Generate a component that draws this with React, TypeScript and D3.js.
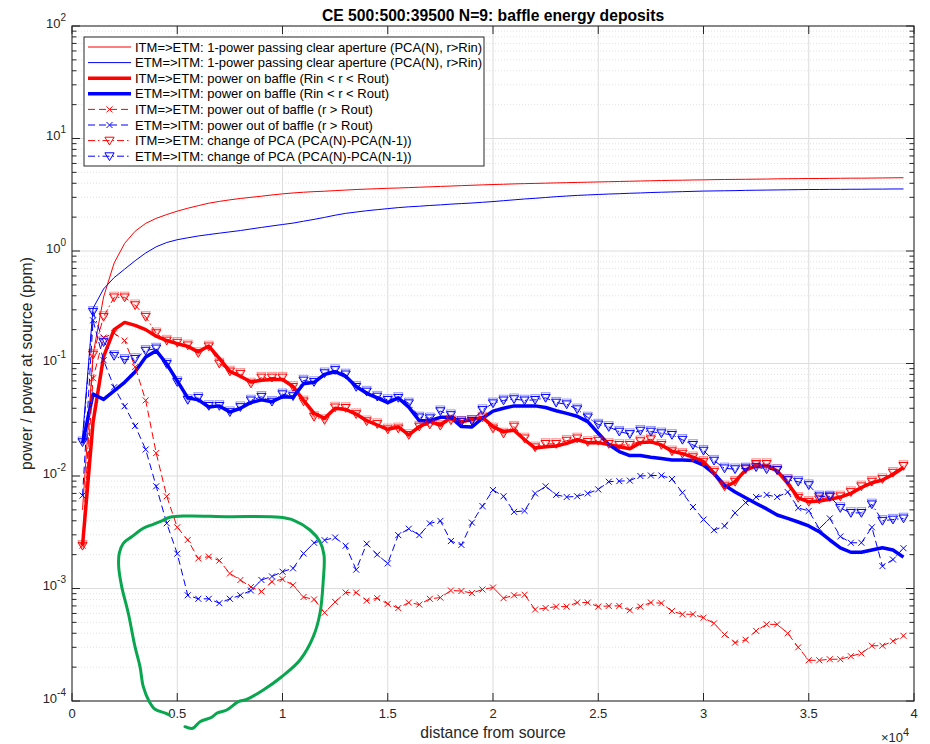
import React from 'react';
import * as d3 from 'd3';

// baffle positions 500:500:39500
const distances: number[] = d3.range(500, 40000, 500);

// ITM=>ETM: 1-power passing clear aperture
const itmEtmPca = [
  0.005, 0.12, 0.39, 0.78, 1.17, 1.5, 1.76, 1.95, 2.11, 2.26,
  2.40, 2.53, 2.66, 2.76, 2.85, 2.93, 3.00, 3.07, 3.15, 3.22,
  3.28, 3.33, 3.37, 3.40, 3.44, 3.48, 3.52, 3.55, 3.58, 3.61,
  3.63, 3.66, 3.69, 3.72, 3.75, 3.78, 3.81, 3.84, 3.87, 3.90,
  3.92, 3.95, 3.97, 3.99, 4.01, 4.03, 4.05, 4.07, 4.09, 4.11,
  4.13, 4.15, 4.17, 4.19, 4.21, 4.23, 4.25, 4.26, 4.28, 4.29,
  4.31, 4.32, 4.33, 4.34, 4.35, 4.36, 4.38, 4.39, 4.40, 4.41,
  4.41, 4.42, 4.43, 4.44, 4.44, 4.45, 4.46, 4.47, 4.48,
];
// ETM=>ITM: 1-power passing clear aperture
const etmItmPca = [
  0.022, 0.31, 0.46, 0.58, 0.69, 0.82, 0.96, 1.09, 1.19, 1.26,
  1.31, 1.36, 1.40, 1.44, 1.48, 1.52, 1.57, 1.62, 1.67, 1.72,
  1.77, 1.84, 1.91, 1.99, 2.08, 2.16, 2.22, 2.28, 2.33, 2.38,
  2.43, 2.47, 2.50, 2.54, 2.57, 2.61, 2.64, 2.67, 2.71, 2.75,
  2.80, 2.85, 2.90, 2.94, 2.99, 3.04, 3.08, 3.12, 3.15, 3.18,
  3.21, 3.23, 3.26, 3.28, 3.31, 3.33, 3.35, 3.37, 3.39, 3.41,
  3.42, 3.43, 3.44, 3.46, 3.47, 3.48, 3.49, 3.50, 3.51, 3.52,
  3.52, 3.53, 3.53, 3.54, 3.54, 3.55, 3.55, 3.56, 3.56,
];
// ITM=>ETM: power on baffle
const itmEtmBaffle = [
  0.0024, 0.03, 0.115, 0.2, 0.232, 0.218, 0.2, 0.175, 0.16, 0.15,
  0.142, 0.127, 0.143, 0.111, 0.085, 0.077, 0.0685, 0.071, 0.072, 0.072,
  0.0625, 0.047, 0.036, 0.0326, 0.040, 0.039, 0.0355, 0.031, 0.0284, 0.026,
  0.0273, 0.0232, 0.0275, 0.0304, 0.0284, 0.0332, 0.0304, 0.0318, 0.0332, 0.0275,
  0.0248, 0.0255, 0.021, 0.0177, 0.0182, 0.0185, 0.0195, 0.021, 0.0198, 0.0198,
  0.019, 0.0182, 0.0175, 0.0198, 0.0201, 0.0189, 0.0166, 0.0158, 0.0147, 0.0134,
  0.0106, 0.0079, 0.0089, 0.0113, 0.0123, 0.0123, 0.0111, 0.0086, 0.0064, 0.0059,
  0.006, 0.0062, 0.0065, 0.007, 0.0079, 0.0087, 0.0092, 0.0103, 0.0119,
];
// ETM=>ITM: power on baffle
const etmItmBaffle = [
  0.0195, 0.0535, 0.048, 0.057, 0.068, 0.0845, 0.114, 0.13, 0.099, 0.07,
  0.0495, 0.0475, 0.041, 0.042, 0.037, 0.040, 0.045, 0.0475, 0.0458, 0.0506,
  0.05, 0.066, 0.068, 0.08, 0.0845, 0.077, 0.0625, 0.0543, 0.0495, 0.0449,
  0.0495, 0.041, 0.031, 0.031, 0.0332, 0.0332, 0.0275, 0.0273, 0.0326, 0.0377,
  0.040, 0.042, 0.042, 0.042, 0.0406, 0.038, 0.036, 0.034, 0.0304, 0.024,
  0.019, 0.0165, 0.0152, 0.0152, 0.0147, 0.0143, 0.0139, 0.0139, 0.0137, 0.0125,
  0.0105, 0.0083, 0.0072, 0.0064, 0.0057, 0.0051, 0.0045, 0.0042, 0.0039, 0.0036,
  0.0032, 0.0027, 0.0023, 0.0021, 0.0021, 0.0022, 0.0023, 0.0022, 0.0019,
];
// ITM=>ETM: power out of baffle
const itmEtmOut = [
  0.0024, 0.074, 0.17, 0.186, 0.16, 0.093, 0.047, 0.016, 0.0066, 0.0035,
  0.0027, 0.00185, 0.00192, 0.00177, 0.00136, 0.00119, 0.00103, 0.00094, 0.00115, 0.00121,
  0.00107, 0.00084, 0.0008, 0.00061, 0.00076, 0.00092, 0.00092, 0.00078, 0.00082, 0.00073,
  0.00067, 0.00075, 0.00072, 0.00081, 0.00083, 0.00096, 0.00095, 0.00091, 0.00098, 0.00102,
  0.00082, 0.00087, 0.00088, 0.00065, 0.00067, 0.00069, 0.00069, 0.00075, 0.00075, 0.00069,
  0.0007, 0.0007, 0.00064, 0.00069, 0.00075, 0.00074, 0.00063, 0.00059, 0.00059, 0.00055,
  0.00049, 0.00039, 0.00033, 0.00035, 0.00042, 0.00048, 0.00048, 0.0004, 0.0003, 0.00023,
  0.00023, 0.000235, 0.000235, 0.00025, 0.000265, 0.00031, 0.00031, 0.00034, 0.00038,
];
// ETM=>ITM: power out of baffle
const etmItmOut = [
  0.0067, 0.242, 0.107, 0.0615, 0.0417, 0.0279, 0.0172, 0.0081, 0.0038, 0.00204,
  0.00087, 0.00081, 0.00081, 0.00074, 0.00081, 0.00087, 0.00096, 0.00119, 0.00128, 0.00141,
  0.00151, 0.00205, 0.00255, 0.00269, 0.00284, 0.0024, 0.00147, 0.0025, 0.002, 0.00167,
  0.00298, 0.0034, 0.00298, 0.00379, 0.00399, 0.00264, 0.00244, 0.00385, 0.0054, 0.0075,
  0.0066, 0.0048, 0.0049, 0.007, 0.0081, 0.0068, 0.0065, 0.0066, 0.007, 0.0076,
  0.0089, 0.009, 0.0091, 0.01, 0.0101, 0.0101, 0.0094, 0.0071, 0.0053, 0.0041,
  0.0033, 0.0036, 0.0047, 0.0058, 0.0065, 0.0068, 0.0065, 0.0072, 0.0052, 0.0049,
  0.0034, 0.0042, 0.0029, 0.00255, 0.00255, 0.0035, 0.00158, 0.00181, 0.00228,
];
// ITM=>ETM: change of PCA
const itmEtmDelta = [
  0.0024, 0.12, 0.26, 0.387, 0.387, 0.33, 0.26, 0.186, 0.16, 0.153,
  0.145, 0.124, 0.142, 0.10, 0.085, 0.081, 0.0665, 0.075, 0.075, 0.075,
  0.062, 0.0461, 0.0336, 0.0315, 0.0407, 0.0403, 0.0355, 0.0307, 0.029, 0.026,
  0.0265, 0.0232, 0.0275, 0.0287, 0.028, 0.0313, 0.0304, 0.031, 0.0332, 0.0265,
  0.0239, 0.0275, 0.0216, 0.018, 0.0193, 0.0193, 0.0206, 0.0216, 0.0201, 0.0206,
  0.0193, 0.0189, 0.0189, 0.0204, 0.0212, 0.0189, 0.0166, 0.0158, 0.0147, 0.0134,
  0.0109, 0.0081, 0.0089, 0.0115, 0.0128, 0.0128, 0.0113, 0.0092, 0.0064, 0.0059,
  0.0062, 0.0065, 0.0066, 0.0072, 0.0081, 0.0089, 0.0094, 0.0107, 0.0123,
];
// ETM=>ITM: change of PCA
const etmItmDelta = [
  0.02, 0.288, 0.155, 0.117, 0.108, 0.11, 0.13, 0.136, 0.099, 0.0685,
  0.0475, 0.0495, 0.042, 0.042, 0.037, 0.041, 0.047, 0.0506, 0.0458, 0.0533,
  0.0513, 0.0706, 0.0685, 0.082, 0.0875, 0.08, 0.062, 0.0563, 0.0508, 0.0475,
  0.0495, 0.0443, 0.0332, 0.0326, 0.0377, 0.0348, 0.0304, 0.031, 0.0386, 0.0443,
  0.047, 0.0482, 0.047, 0.0475, 0.0495, 0.0449, 0.0434, 0.0392, 0.0332, 0.0287,
  0.0273, 0.0248, 0.0236, 0.0253, 0.0248, 0.024, 0.0232, 0.021, 0.0189, 0.0168,
  0.0137, 0.0117, 0.0115, 0.0117, 0.012, 0.0115, 0.0113, 0.0092, 0.0089, 0.0083,
  0.0066, 0.0066, 0.0052, 0.0047, 0.0047, 0.0056, 0.004, 0.0041, 0.0042,
];

const legendLabels = [
  'ITM=>ETM: 1-power passing clear aperture (PCA(N), r>Rin)',
  'ETM=>ITM: 1-power passing clear aperture (PCA(N), r>Rin)',
  'ITM=>ETM: power on baffle (Rin < r < Rout)',
  'ETM=>ITM: power on baffle (Rin < r < Rout)',
  'ITM=>ETM: power out of baffle (r > Rout)',
  'ETM=>ITM: power out of baffle (r > Rout)',
  'ITM=>ETM: change of PCA (PCA(N)-PCA(N-1))',
  'ETM=>ITM: change of PCA (PCA(N)-PCA(N-1))',
];

const xTicks = [0, 5000, 10000, 15000, 20000, 25000, 30000, 35000, 40000];
const xTickLabels = ['0', '0.5', '1', '1.5', '2', '2.5', '3', '3.5', '4'];
const yExponents = [-4, -3, -2, -1, 0, 1, 2];

const titleText = 'CE 500:500:39500 N=9: baffle energy deposits';
const xLabelText = 'distance from source';
const yLabelText = 'power / power at source (ppm)';

// hand-drawn green annotation loop, in data coordinates [distance, ppm]
const annotationLoop: [number, number][] = [
  [5368, 5.91e-5], [5734, 5.72e-5], [6081, 6.55e-5], [6637, 7.16e-5], [6874, 7.78e-5],
  [7349, 8.32e-5], [7900, 9.86e-5], [8299, 1.035e-4], [9088, 1.253e-4], [9962, 1.644e-4],
  [10831, 2.314e-4], [11463, 3.73e-4], [11781, 6.02e-4], [11938, 1.19e-3], [11972, 1.985e-3],
  [11781, 2.606e-3], [11306, 3.31e-3], [10513, 4.06e-3], [9881, 4.3e-3], [7349, 4.35e-3],
  [5449, 4.41e-3], [4656, 4.3e-3], [4181, 3.93e-3], [3862, 3.72e-3], [3387, 3.43e-3],
  [2836, 2.88e-3], [2437, 2.52e-3], [2247, 2.06e-3], [2218, 1.56e-3], [2361, 1.04e-3],
  [2675, 6.02e-4], [2993, 3.04e-4], [3230, 2.02e-4], [3387, 1.34e-4], [3672, 9.86e-5],
  [3943, 8.44e-5], [4466, 7.78e-5], [4622, 7.51e-5],
];

type Marker = 'none' | 'x' | 'v';
interface SeriesDef {
  values: number[];
  color: string;
  width: number;
  dash: string;
  marker: Marker;
}

const RED = '#ff0000';
const BLUE = '#0000ff';
const DASH = '7,4';
const DASHDOT = '7,3,1.5,3';

const series: SeriesDef[] = [
  { values: itmEtmPca, color: RED, width: 1, dash: '', marker: 'none' },
  { values: etmItmPca, color: BLUE, width: 1, dash: '', marker: 'none' },
  { values: itmEtmBaffle, color: RED, width: 3.5, dash: '', marker: 'none' },
  { values: etmItmBaffle, color: BLUE, width: 3.5, dash: '', marker: 'none' },
  { values: itmEtmOut, color: RED, width: 1, dash: DASH, marker: 'x' },
  { values: etmItmOut, color: BLUE, width: 1, dash: DASH, marker: 'x' },
  { values: itmEtmDelta, color: RED, width: 1, dash: DASHDOT, marker: 'v' },
  { values: etmItmDelta, color: BLUE, width: 1, dash: DASHDOT, marker: 'v' },
];

const AX = '#262626';
const FONT = "'Liberation Sans', Arial, Helvetica, sans-serif";

function MarkerShape({
  kind,
  cx,
  cy,
  color,
  doubled = false,
}: {
  kind: Marker;
  cx: number;
  cy: number;
  color: string;
  doubled?: boolean;
}) {
  if (kind === 'x') {
    const s = 3;
    return (
      <path
        d={`M${cx - s},${cy - s}L${cx + s},${cy + s}M${cx - s},${cy + s}L${cx + s},${cy - s}`}
        stroke={color}
        strokeWidth={1}
        fill="none"
      />
    );
  }
  if (kind === 'v') {
    const tri = (oy: number) => `M${cx - 4.6},${cy - 3.4 + oy}L${cx + 4.6},${cy - 3.4 + oy}L${cx},${cy + 4.4 + oy}Z`;
    return (
      <g>
        {doubled && <path d={tri(-1.8)} stroke={color} strokeWidth={0.9} fill="none" opacity={0.45} />}
        <path d={tri(0)} stroke={color} strokeWidth={1} fill="none" />
      </g>
    );
  }
  return null;
}

export default function App() {
  const W = 930;
  const H = 744;
  const left = 72;
  const right = 914;
  const top = 26;
  const bottom = 701;

  const x = d3.scaleLinear().domain([0, 40000]).range([left, right]);
  const y = d3.scaleLog().domain([1e-4, 100]).range([bottom, top]);

  const line = d3
    .line<number>()
    .x((_, i) => x(distances[i]))
    .y((v) => y(v));

  const loopLine = d3
    .line<[number, number]>()
    .x((d) => x(d[0]))
    .y((d) => y(d[1]))
    .curve(d3.curveCatmullRom.alpha(0.5));

  const minorVals: number[] = [];
  for (let e = -4; e < 2; e++) {
    for (let k = 2; k <= 9; k++) minorVals.push(k * Math.pow(10, e));
  }
  const majorVals = yExponents.map((e) => Math.pow(10, e));

  const legX = 84;
  const legY = 37;
  const legW = 400;
  const legH = 129;
  const rowH = 15.6;

  return (
    <svg
      width={W}
      height={H}
      viewBox={`0 0 ${W} ${H}`}
      style={{ position: 'absolute', left: 0, top: 0, background: '#fff' }}
      fontFamily={FONT}
    >
      <rect x={0} y={0} width={W} height={H} fill="#fff" />
      <defs>
        <clipPath id="plotClip">
          <rect x={left} y={top} width={right - left} height={bottom - top} />
        </clipPath>
      </defs>

      {/* minor horizontal grid */}
      {minorVals.map((v, i) => (
        <line
          key={'mg' + i}
          x1={left}
          x2={right}
          y1={y(v)}
          y2={y(v)}
          stroke="#d6d6d6"
          strokeWidth={0.7}
          strokeDasharray="1,2"
        />
      ))}
      {/* major grid */}
      {majorVals.slice(1, -1).map((v, i) => (
        <line key={'hg' + i} x1={left} x2={right} y1={y(v)} y2={y(v)} stroke="#dcdcdc" strokeWidth={1} />
      ))}
      {xTicks.slice(1, -1).map((t, i) => (
        <line key={'vg' + i} x1={x(t)} x2={x(t)} y1={top} y2={bottom} stroke="#dcdcdc" strokeWidth={1} />
      ))}

      {/* data */}
      <g clipPath="url(#plotClip)">
        {series.map((s, si) => (
          <g key={'s' + si}>
            <path
              d={line(s.values) || ''}
              fill="none"
              stroke={s.color}
              strokeWidth={s.width}
              strokeDasharray={s.dash || undefined}
              strokeLinejoin="round"
            />
            {s.marker !== 'none' &&
              s.values.map((v, i) => (
                <MarkerShape
                  key={i}
                  kind={s.marker}
                  cx={x(distances[i])}
                  cy={y(v)}
                  color={s.color}
                  doubled={true}
                />
              ))}
          </g>
        ))}
      </g>

      {/* axes box */}
      <rect x={left} y={top} width={right - left} height={bottom - top} fill="none" stroke={AX} strokeWidth={1.1} />

      {/* x ticks */}
      {xTicks.map((t, i) => (
        <g key={'xt' + i}>
          <line x1={x(t)} x2={x(t)} y1={bottom} y2={bottom - 8} stroke={AX} strokeWidth={1} />
          <line x1={x(t)} x2={x(t)} y1={top} y2={top + 8} stroke={AX} strokeWidth={1} />
          <text x={x(t)} y={717.5} textAnchor="middle" fontSize={13} fill={AX}>
            {xTickLabels[i]}
          </text>
        </g>
      ))}
      {/* y ticks */}
      {majorVals.map((v, i) => (
        <g key={'yt' + i}>
          <line x1={left} x2={left + 8} y1={y(v)} y2={y(v)} stroke={AX} strokeWidth={1} />
          <line x1={right} x2={right - 8} y1={y(v)} y2={y(v)} stroke={AX} strokeWidth={1} />
          <text x={66} y={y(v) + 1.5} textAnchor="end" fontSize={13} fill={AX}>
            <tspan>10</tspan>
            <tspan dy={-7} fontSize={10}>
              {String(yExponents[i])}
            </tspan>
          </text>
        </g>
      ))}
      {minorVals.map((v, i) => (
        <g key={'ymt' + i}>
          <line x1={left} x2={left + 4.5} y1={y(v)} y2={y(v)} stroke={AX} strokeWidth={1} />
          <line x1={right} x2={right - 4.5} y1={y(v)} y2={y(v)} stroke={AX} strokeWidth={1} />
        </g>
      ))}

      {/* x exponent */}
      <text x={881} y={741.5} fontSize={13} fill={AX}>
        <tspan>×10</tspan>
        <tspan dy={-5.5} fontSize={11}>
          4
        </tspan>
      </text>

      {/* labels */}
      <text x={(left + right) / 2} y={21} textAnchor="middle" fontSize={15.7} fontWeight="bold" fill="#000">
        {titleText}
      </text>
      <text x={(left + right) / 2} y={738} textAnchor="middle" fontSize={15.7} fill={AX}>
        {xLabelText}
      </text>
      <text
        transform={`translate(32,${(top + bottom) / 2}) rotate(-90)`}
        textAnchor="middle"
        fontSize={15.7}
        fill={AX}
      >
        {yLabelText}
      </text>

      {/* legend */}
      <rect x={legX} y={legY} width={legW} height={legH} fill="#fff" stroke={AX} strokeWidth={1} />
      {series.map((s, i) => {
        const cy = legY + 10 + i * rowH;
        return (
          <g key={'lg' + i}>
            <line
              x1={88}
              x2={131}
              y1={cy}
              y2={cy}
              stroke={s.color}
              strokeWidth={s.width}
              strokeDasharray={s.dash || undefined}
            />
            <MarkerShape kind={s.marker} cx={109.5} cy={cy} color={s.color} />
            <text x={135} y={cy + 4.6} fontSize={13} fill="#000">
              {legendLabels[i]}
            </text>
          </g>
        );
      })}

      {/* green annotation */}
      <path
        d={loopLine(annotationLoop) || ''}
        fill="none"
        stroke="#0aa64f"
        strokeWidth={3}
        strokeLinejoin="round"
        strokeLinecap="round"
      />
    </svg>
  );
}
